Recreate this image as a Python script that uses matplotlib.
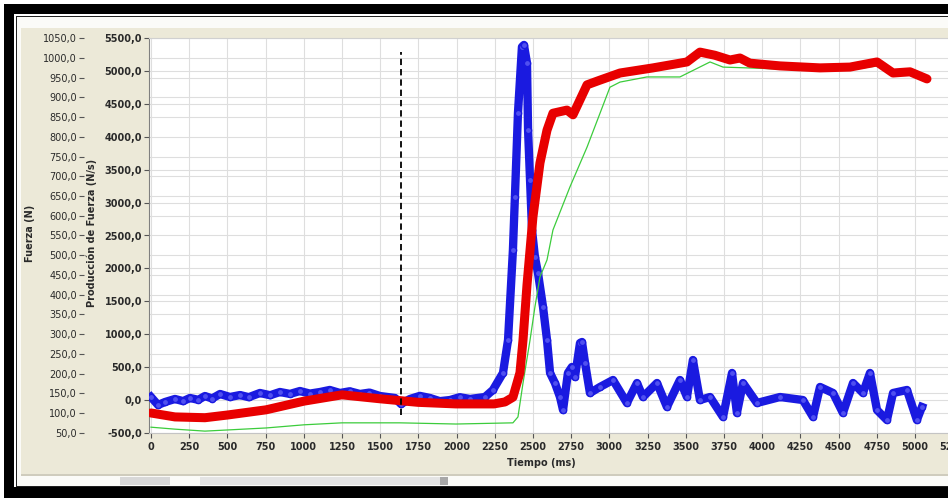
import numpy as np
import matplotlib.pyplot as plt
from matplotlib.patches import Rectangle
from matplotlib.ticker import MultipleLocator, FixedLocator

# --- data ---
# Produccion de fuerza (N/s), right scale
blue_t = [0, 46, 92, 157, 210, 255, 310, 353, 400, 452, 517, 583, 640, 713,
          780, 844, 910, 975, 1040, 1106, 1170, 1237, 1300, 1368, 1430, 1499,
          1597, 1636, 1695, 1760, 1826, 1890, 1957, 2020, 2088, 2186, 2238,
          2304, 2337, 2369, 2382, 2402, 2428, 2441, 2461, 2468, 2481, 2494,
          2513, 2533, 2566, 2592, 2612, 2644, 2677, 2697, 2729, 2755, 2775,
          2808, 2821, 2841, 2873, 2939, 3024, 3115, 3181, 3220, 3312, 3377,
          3462, 3508, 3547, 3593, 3659, 3744, 3803, 3835, 3875, 3966, 4117,
          4267, 4333, 4379, 4464, 4529, 4595, 4660, 4706, 4752, 4817, 4857,
          4948, 5013, 5046]
blue_v = [43, -78, -33, 13, -20, 28, 0, 58, 20, 89, 43, 73, 40, 104,
          70, 119, 90, 134, 95, 119, 150, 104, 130, 89, 110, 58,
          28, -63, 13, 60, 28, -20, -3, 40, 13, 43, 150,
          409, 911, 2280, 3087, 4365, 5369, 5399, 5125, 4106, 3345, 2584,
          2173, 1930, 1413, 911, 409, 256, 43, -155, 409, 500, 348,
          865, 880, 561, 104, 196, 302, -48, 256, 43, 256, -109,
          302, 43, 606, -3, 43, -261, 409, -200, 256, -48, 43,
          -3, -261, 196, 104, -200, 256, 104, 409, -155, -307, 104,
          150, -307, -109]

# Fuerza (N), left scale
red_t = [0, 157, 353, 504, 753, 1001, 1250, 1499, 1748, 1996, 2245, 2317,
         2369, 2415, 2435, 2461, 2481, 2500, 2546, 2592, 2631, 2723, 2762,
         2808, 2854, 2939, 3070, 3286, 3508, 3593, 3691, 3790, 3855, 3920,
         4117, 4379, 4575, 4752, 4857, 4968, 5079]
red_v = [100, 90, 88, 95, 108, 130, 146, 136, 127, 123, 123, 128,
         140, 202, 285, 424, 513, 597, 734, 817, 860, 868, 856,
         894, 932, 944, 962, 975, 990, 1015, 1007, 995, 1000, 987,
         980, 975, 977, 990, 962, 965, 947]

green_t = [0, 157, 353, 504, 753, 1001, 1250, 1630, 1996, 2369, 2402, 2435,
           2481, 2513, 2546, 2592, 2631, 2742, 2854, 2939, 3004, 3070, 3246,
           3462, 3659, 3744, 3901, 4117, 4379, 4575, 4752, 4857, 4968, 5079]
green_v = [64, 59, 54, 57, 62, 70, 75, 75, 72, 75, 90, 176,
           285, 369, 445, 488, 564, 673, 774, 860, 926, 939, 952,
           952, 990, 977, 975, 972, 968, 970, 980, 955, 958, 942]

marker_t = 1636
marker_lo, marker_hi = 95, 1015

x_ticks = list(range(0, 5251, 250))
right_ticks = list(range(-500, 5501, 500))
left_ticks = list(range(50, 1051, 50))

W, H = 948, 498
beige = '#ECE9D8'


def fmt(v):
    return f"{v:.1f}".replace(".", ",")


fig = plt.figure(figsize=(W / 100, H / 100), dpi=100)
fig.patch.set_facecolor('white')


def px_rect(x0, y0, x1, y1, color):
    fig.add_artist(Rectangle((x0 / W, 1 - y1 / H), (x1 - x0) / W, (y1 - y0) / H,
                             transform=fig.transFigure, facecolor=color,
                             edgecolor='none', zorder=-10))


# window frame
px_rect(4, 4, W, H, 'black')
px_rect(14, 14, W, 487, 'white')
px_rect(16, 16, W, 487, '#202020')
px_rect(17, 17, W, 486, '#fbfbf8')
px_rect(21, 28, W, 474, beige)
px_rect(21, 474, W, 476, '#cfccbd')
px_rect(120, 477, 170, 485, '#d8d8d8')
px_rect(200, 477, 448, 485, '#e4e4e4')
px_rect(440, 477, 448, 485, '#a8a8a8')

ax = fig.add_axes([149 / W, 1 - 432.7 / H, (1000 - 149) / W, (432.7 - 38.3) / H])
ax.set_facecolor('white')
ax.set_xlim(-13, 5557)
ax.set_ylim(-500, 5500)

ax.plot(blue_t, blue_v, color='#1a1ae0', lw=6, solid_joinstyle='round',
        marker='o', ms=4.5, mfc='#5050f0', mec='#1a1ae0', zorder=3)

ax2 = ax.twinx()
ax2.set_ylim(50, 1050)
ax2.plot(green_t, green_v, color='#3ccc3c', lw=0.9, zorder=2)
ax2.plot(red_t, red_v, color='#e80000', lw=6.5, solid_joinstyle='round',
         solid_capstyle='round', zorder=3)
ax2.vlines(marker_t, marker_lo, marker_hi, colors='black', lw=1.3,
           linestyles=(0, (3.5, 2.2)), zorder=4)

# grid: x every 250, y at both scales
ax.xaxis.set_major_locator(FixedLocator(x_ticks))
ax.set_xticklabels([str(t) for t in x_ticks])
ax.set_yticks(right_ticks)
ax.set_yticklabels([fmt(v) for v in right_ticks])
ax.yaxis.set_minor_locator(MultipleLocator(300, offset=100))
ax.grid(True, which='both', color='#dedede', lw=0.8)
ax.set_axisbelow(True)
ax.tick_params(which='minor', length=0)
ax.tick_params(which='major', direction='out', length=3.5, width=0.8,
               color='#555555', labelcolor='#2a2a2a', labelsize=7, pad=1.5)
ax.tick_params(axis='x', pad=3)
for lab in ax.get_xticklabels() + ax.get_yticklabels():
    lab.set_fontweight('bold')

ax2.yaxis.tick_left()
ax2.set_yticks(left_ticks)
ax2.set_yticklabels([fmt(v) for v in left_ticks])
ax2.tick_params(direction='out', length=3.5, width=0.8, color='#555555',
                labelcolor='#2a2a2a', labelsize=7, pad=1.5)
for lab in ax2.get_yticklabels():
    lab.set_fontweight('bold')

for s in ['top', 'right', 'bottom']:
    ax2.spines[s].set_visible(False)
ax2.spines['left'].set_position(('outward', 46.8))
ax2.spines['left'].set_edgecolor('none')

ax.spines['left'].set_color('#808080')
ax.spines['bottom'].set_color('#c4c4c4')
ax.spines['top'].set_color('#d0d0d0')
ax.spines['right'].set_visible(False)

fig.text(541 / W, 1 - 463 / H, 'Tiempo (ms)', ha='center', va='center',
         fontsize=7, fontweight='bold', color='#2a2a2a')
fig.text(30 / W, 1 - 233 / H, 'Fuerza (N)', ha='center', va='center',
         rotation=90, fontsize=7, fontweight='bold', color='#2a2a2a')
fig.text(92 / W, 1 - 233 / H, 'Producción de Fuerza (N/s)', ha='center',
         va='center', rotation=90, fontsize=7, fontweight='bold', color='#2a2a2a')

fig.savefig('out.png', dpi=100)
